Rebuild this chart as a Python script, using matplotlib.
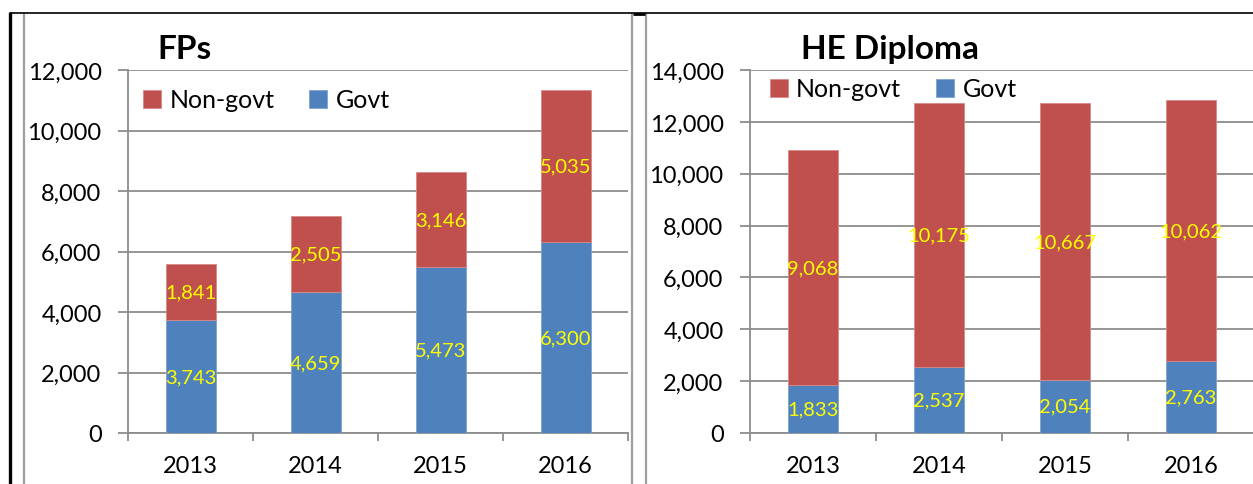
import matplotlib
matplotlib.use("Agg")
import matplotlib.pyplot as plt
from matplotlib.lines import Line2D
from matplotlib.ticker import FuncFormatter

plt.rcParams['font.family'] = ['Lato', 'DejaVu Sans']

years = ["2013", "2014", "2015", "2016"]

fps_govt = [3743, 4659, 5473, 6300]
fps_nongovt = [1841, 2505, 3146, 5035]

he_govt = [1833, 2537, 2054, 2763]
he_nongovt = [9068, 10175, 10667, 10062]

RED = "#C0504D"
BLUE = "#4F81BD"
GRID = "#8C8C8C"

W, H = 1253, 485
fig = plt.figure(figsize=(W / 100, H / 100), dpi=100)


def px(x, y):
    return x / W, 1 - y / H


def draw_panel(ax, govt, nongovt, ymax, title, title_x, title_ha, leg_x, leg_y):
    x = range(len(years))
    ax.bar(x, govt, width=0.4, color=BLUE, edgecolor="#7FA3D1", linewidth=0.6,
           label="Govt", zorder=3)
    ax.bar(x, nongovt, width=0.4, bottom=govt, color=RED, edgecolor="#D98A88",
           linewidth=0.6, label="Non-govt", zorder=3)
    for i in x:
        ax.text(i, govt[i] / 2, "{:,}".format(govt[i]), color="#FFFF00",
                ha="center", va="center", fontsize=14.5, zorder=4)
        ax.text(i, govt[i] + nongovt[i] / 2, "{:,}".format(nongovt[i]),
                color="#FFFF00", ha="center", va="center", fontsize=14.5, zorder=4)

    ax.set_xlim(-0.5, 3.5)
    ax.set_ylim(0, ymax)
    ax.set_yticks(range(0, ymax + 1, 2000))
    ax.yaxis.set_major_formatter(FuncFormatter(lambda v, p: "{:,}".format(int(v))))
    ax.grid(axis="y", color=GRID, linewidth=1.3, zorder=0)
    ax.set_axisbelow(True)

    ax.set_xticks(list(x))
    ax.set_xticklabels(years)
    ax.set_xticks([-0.5, 0.5, 1.5, 2.5, 3.5], minor=True)
    ax.tick_params(axis="x", which="major", length=0, pad=16, labelsize=17)
    ax.tick_params(axis="x", which="minor", length=6, width=1.3, color=GRID,
                   direction="out")
    ax.tick_params(axis="y", length=7, width=1.3, color=GRID, pad=12,
                   labelsize=17, direction="out")

    for s in ["top", "right"]:
        ax.spines[s].set_visible(False)
    for s in ["left", "bottom"]:
        ax.spines[s].set_color(GRID)
        ax.spines[s].set_linewidth(1.3)

    ax.text(title_x, 1.058, title, transform=ax.transAxes, fontsize=24,
            fontweight="bold", ha=title_ha, va="center")

    h, l = ax.get_legend_handles_labels()
    ax.legend(h[::-1], l[::-1], ncol=2, frameon=False, loc="center left",
              bbox_to_anchor=(leg_x, leg_y), borderaxespad=0, borderpad=0,
              fontsize=18, handlelength=0.7, handleheight=0.7,
              handletextpad=0.35, columnspacing=1.4)


ax1 = fig.add_axes([128 / W, 1 - 434 / H, 500 / W, 363 / H])
draw_panel(ax1, fps_govt, fps_nongovt, 12000, "FPs", (157 - 128) / 500, "left",
           (143 - 128) / 500, (434 - 101) / 363)

ax2 = fig.add_axes([750 / W, 1 - 434 / H, 504 / W, 363 / H])
draw_panel(ax2, he_govt, he_nongovt, 14000, "HE Diploma", (890 - 750) / 504,
           "center", (770 - 750) / 504, (434 - 90) / 363)


def fig_line(x0, y0, x1, y1, color, lw):
    a = px(x0, y0)
    b = px(x1, y1)
    fig.add_artist(Line2D([a[0], b[0]], [a[1], b[1]], color=color, linewidth=lw,
                          transform=fig.transFigure, solid_capstyle="butt"))


# panel frames
fig_line(24, 14, 24, 490, "#A0A0A0", 1.6)
fig_line(632, 14, 632, 490, "#A0A0A0", 1.6)
fig_line(646, 14, 646, 490, "#A0A0A0", 1.6)
fig_line(10, 14, 1260, 14, "black", 1.2)
fig_line(633, 14.5, 645, 14.5, "black", 2.0)
fig_line(10, 13, 10, 490, "black", 2.4)

fig.savefig("out.png", dpi=100)
